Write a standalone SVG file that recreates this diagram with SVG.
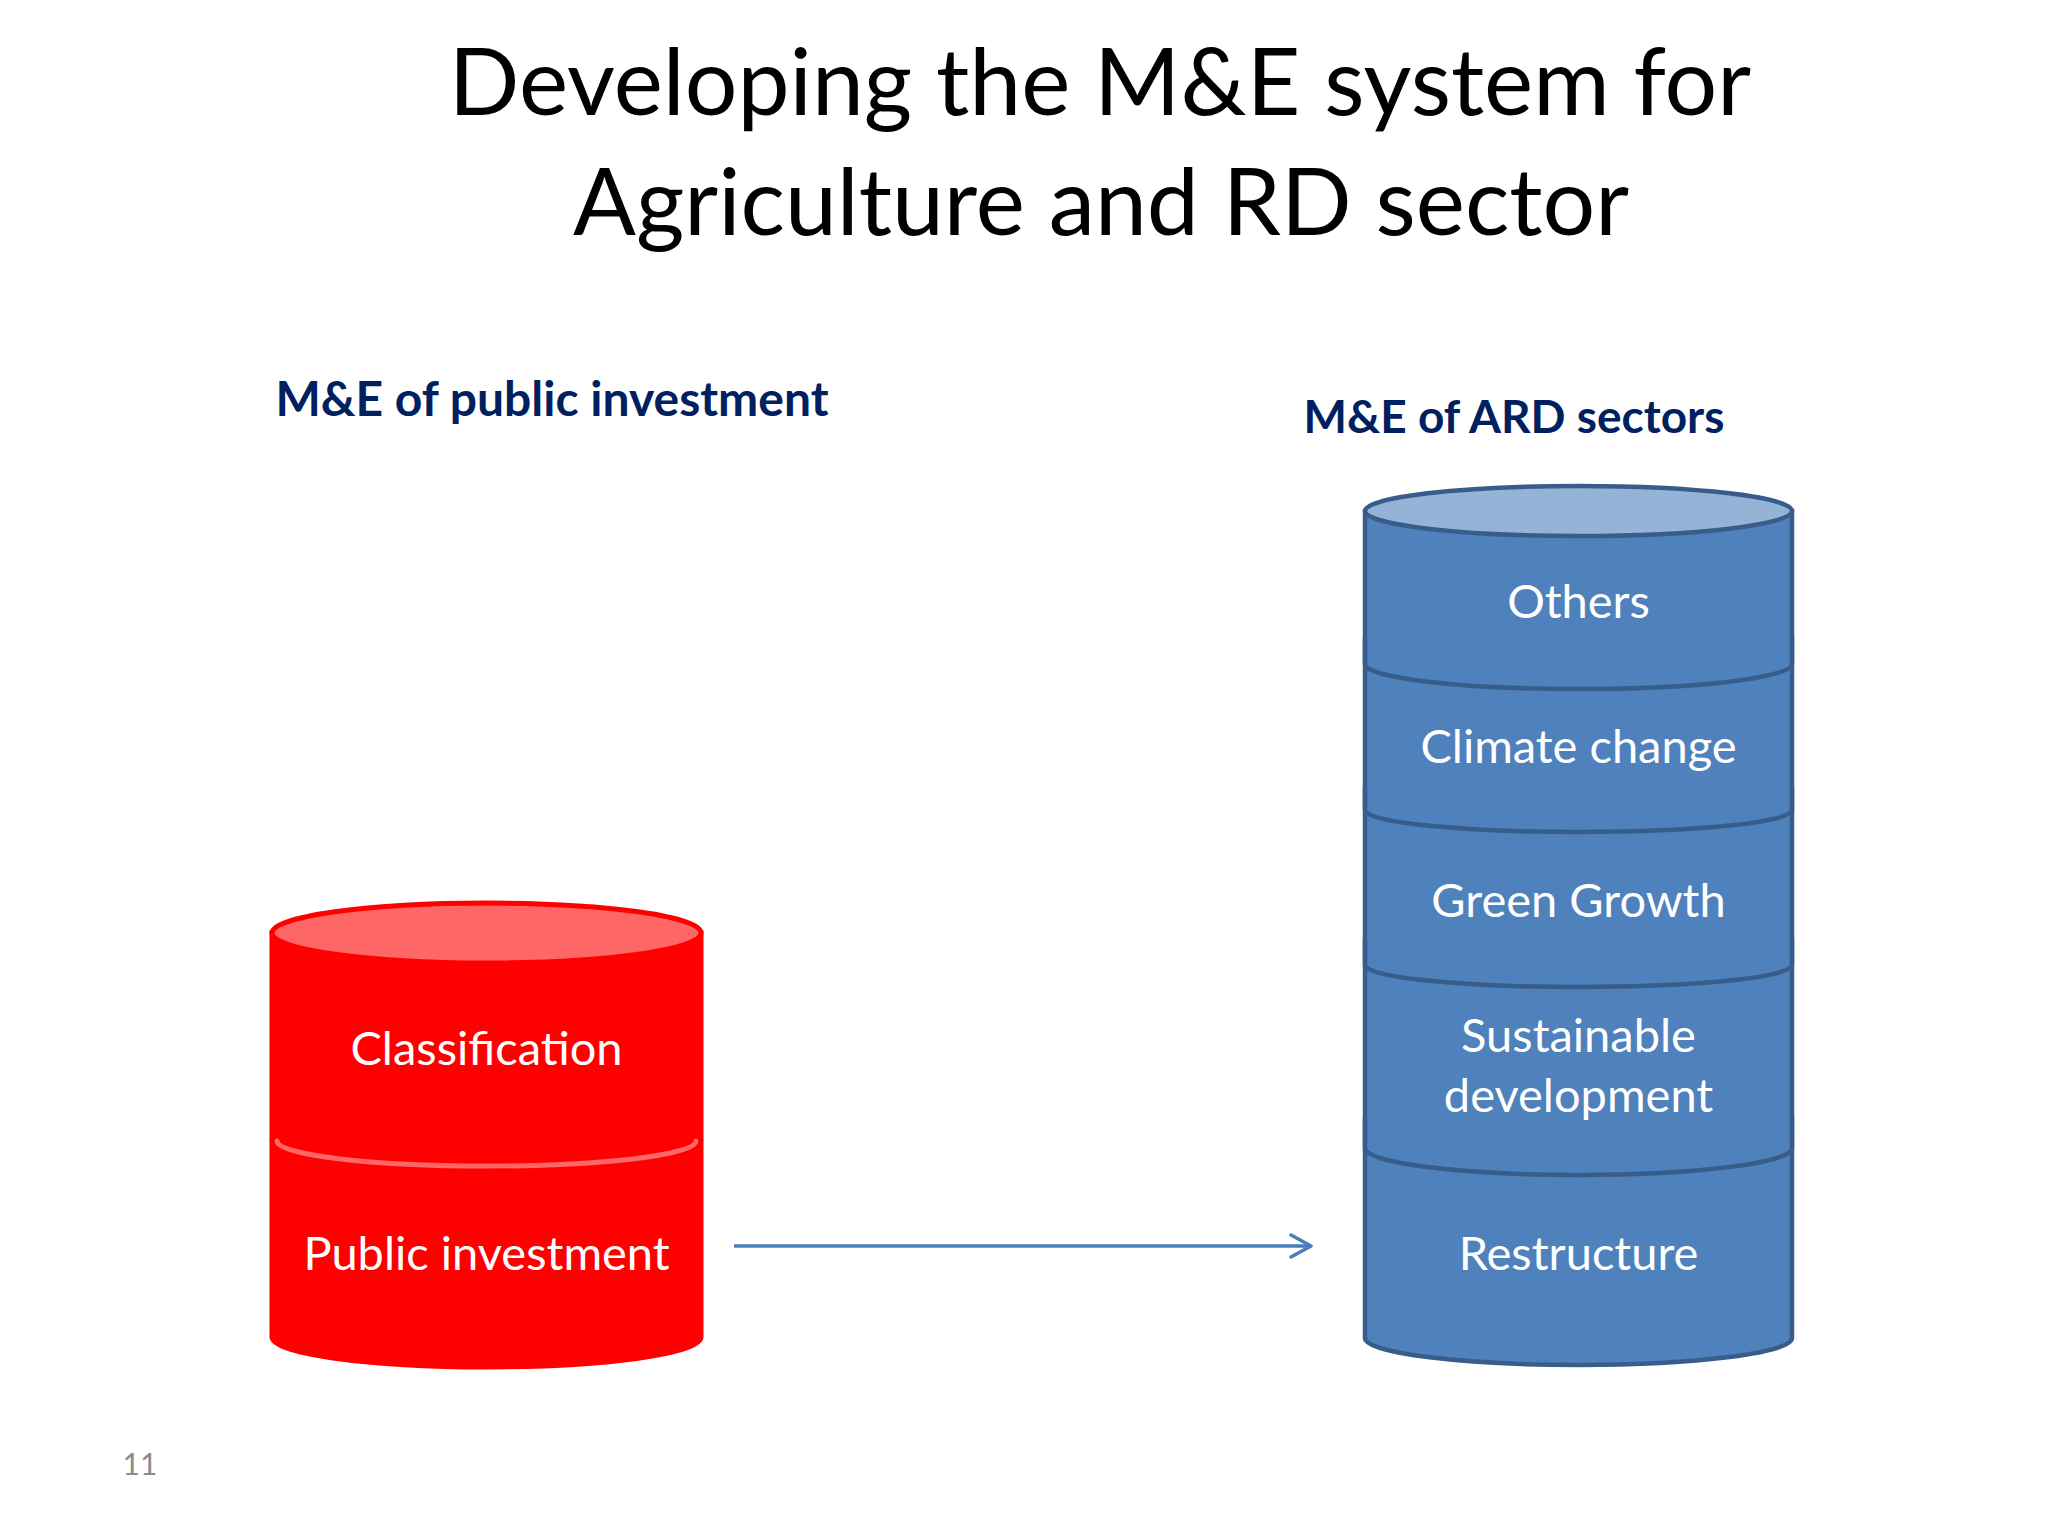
<svg xmlns="http://www.w3.org/2000/svg" width="2048" height="1536" viewBox="0 0 2048 1536">
  <defs>
    <style>
      .title { font-family: Lato, "Open Sans", sans-serif; font-size: 93px; fill: #000000; text-anchor: middle; }
      .label { font-family: Lato, "Open Sans", sans-serif; font-weight: bold; fill: #002060; text-anchor: middle; }
      .inner { font-family: Lato, "Open Sans", sans-serif; font-size: 47px; fill: #FFFFFF; text-anchor: middle; }
      .pnum { font-family: Lato, "Open Sans", sans-serif; font-size: 30px; fill: #8A8A8A; text-anchor: middle; }
      .red-body { fill: #FF0000; stroke: #FF0000; stroke-width: 5; }
      .red-top { fill: #FF6666; stroke: #FF0000; stroke-width: 5; }
      .red-seam { fill: none; stroke: #FF6666; stroke-width: 5; stroke-linecap: round; }
      .blue-body { fill: #4F81BD; stroke: #385D8A; stroke-width: 4.5; }
      .blue-top { fill: #95B3D7; stroke: #385D8A; stroke-width: 4.5; }
      .conn { fill: none; stroke: #4A7EBB; stroke-width: 3.5; }
    </style>
    <marker id="openArrow" markerUnits="userSpaceOnUse" markerWidth="28" markerHeight="30" refX="22" refY="15" orient="auto" viewBox="0 0 28 30">
      <path d="M2 4 L22 15 L2 26" fill="none" stroke="#4A7EBB" stroke-width="3.5" stroke-linecap="round" stroke-linejoin="round"/>
    </marker>
  </defs>
  <rect x="0" y="0" width="2048" height="1536" fill="#FFFFFF"/>

  <g id="title">
    <text class="title" x="1100" y="115">Developing the M&amp;E system for</text>
    <text class="title" x="1101" y="235">Agriculture and RD sector</text>
  </g>

  <g id="label-public">
    <text class="label" x="552" y="416" font-size="48">M&amp;E of public investment</text>
  </g>
  <g id="label-ard">
    <text class="label" x="1514" y="433" font-size="46">M&amp;E of ARD sectors</text>
  </g>

  <!-- Red cylinder -->
  <g id="red-classification">
    <path class="red-body" d="M272 933 L272 1139 A214.5 25 0 0 0 701 1139 L701 933 Z"/>
    <ellipse class="red-top" cx="486.5" cy="933" rx="214.5" ry="30"/>
    <text class="inner" x="486.5" y="1065">Classification</text>
  </g>
  <g id="red-public-investment">
    <path class="red-body" d="M272 1139 A214.5 25 0 0 0 701 1139 L701 1337 A214.5 30 0 0 1 272 1337 Z"/>
    <path class="red-seam" d="M277 1141 A209.5 25 0 0 0 696 1141"/>
    <text class="inner" x="486.5" y="1270">Public investment</text>
  </g>

  <!-- Blue cylinder: bottom segment first -->
  <g id="blue-restructure">
    <path class="blue-body" d="M1365 1120 L1365 1338 A213.5 27 0 0 0 1792 1338 L1792 1120 Z"/>
    <text class="inner" x="1578.5" y="1270">Restructure</text>
  </g>
  <g id="blue-sustainable">
    <path class="blue-body" d="M1365 940 L1365 1148 A213.5 27 0 0 0 1792 1148 L1792 940 Z"/>
    <text class="inner" x="1578.5" y="1052">Sustainable</text>
    <text class="inner" x="1578.5" y="1112">development</text>
  </g>
  <g id="blue-green-growth">
    <path class="blue-body" d="M1365 790 L1365 965 A213.5 22 0 0 0 1792 965 L1792 790 Z"/>
    <text class="inner" x="1578.5" y="917">Green Growth</text>
  </g>
  <g id="blue-climate-change">
    <path class="blue-body" d="M1365 640 L1365 810 A213.5 22 0 0 0 1792 810 L1792 640 Z"/>
    <text class="inner" x="1578.5" y="763">Climate change</text>
  </g>
  <g id="blue-others">
    <path class="blue-body" d="M1365 511 L1365 664 A213.5 25 0 0 0 1792 664 L1792 511 Z"/>
    <ellipse class="blue-top" cx="1578.5" cy="511" rx="213.5" ry="25"/>
    <text class="inner" x="1578.5" y="618">Others</text>
  </g>

  <g id="connectors">
    <line class="conn" x1="734" y1="1246" x2="1311" y2="1246" marker-end="url(#openArrow)"/>
  </g>

  <g id="page-number">
    <text class="pnum" x="140" y="1475">11</text>
  </g>
</svg>
